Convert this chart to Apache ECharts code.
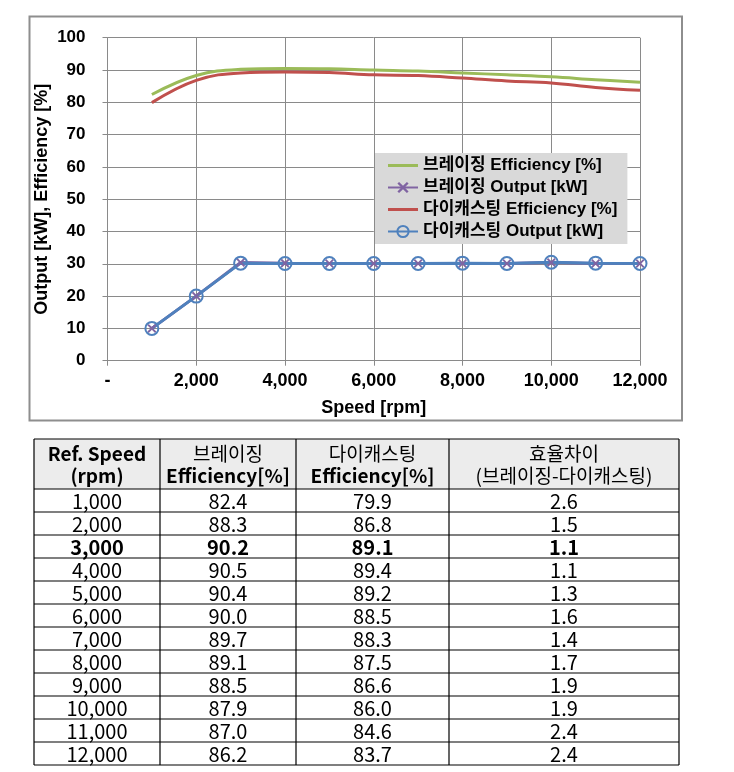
<!DOCTYPE html>
<html>
<head>
<meta charset="utf-8">
<script src="https://cdn.jsdelivr.net/npm/echarts@6/dist/echarts.min.js"></script>
<style>
html,body{margin:0;padding:0;background:#fff;}
#c{width:734px;height:772px;}
</style>
</head>
<body>
<div id="c"></div>
<script>
// ---- data ----
const speeds = [1000,2000,3000,4000,5000,6000,7000,8000,9000,10000,11000,12000];
const brazingEff = [82.4,88.3,90.2,90.5,90.4,90.0,89.7,89.1,88.5,87.9,87.0,86.2];
const diecastEff = [79.9,86.8,89.1,89.4,89.2,88.5,88.3,87.5,86.6,86.0,84.6,83.7];
const effDiff = [2.6,1.5,1.1,1.1,1.3,1.6,1.4,1.7,1.9,1.9,2.4,2.4];
const brazingOut = [10,20,30.4,30.2,30.1,30.1,30.1,30.1,30.1,30.4,30.1,30.1];
const diecastOut = [10,20,30.2,30.1,30.1,30.1,30.1,30.2,30.1,30.5,30.2,30.1];
const seriesNames = ['브레이징 Efficiency [%]','브레이징 Output [kW]','다이캐스팅 Efficiency [%]','다이캐스팅 Output [kW]'];
const headerLine1 = ['Ref. Speed','브레이징','다이캐스팅','효율차이'];
const headerLine2 = ['(rpm)','Efficiency[%]','Efficiency[%]','(브레이징-다이캐스팅)'];
const boldRowSpeed = 3000;

// ---- build ----
const pairs = vals => speeds.map((s,i)=>[s, vals[i]]);
const FONT = '"Liberation Sans", Arial, "Noto Sans CJK KR", sans-serif';
const TFONT = '"Noto Sans CJK KR", "Noto Sans", sans-serif';
const gridCol = '#8a8a8a';

const chart = echarts.init(document.getElementById('c'), null, {renderer:'canvas'});

// table layout
const colX = [34, 160, 296, 449, 679];
const headTop = 439, headBot = 489, rowH = 23;
const tableBot = headBot + rowH * speeds.length;
const g = [];
g.push({type:'rect', shape:{x:29.5,y:16.5,width:652.5,height:404}, style:{fill:'none', stroke:'#8e8e8e', lineWidth:2}, z:0});
g.push({type:'rect', shape:{x:colX[0], y:headTop, width:colX[4]-colX[0], height:headBot-headTop}, style:{fill:'#ececec'}});
function txt(t, x, y, font){
  g.push({type:'text', style:{text:t, x:x, y:y, font:font, fill:'#000', textAlign:'center', textVerticalAlign:'middle', align:'center', verticalAlign:'middle'}});
}
function ln(x1,y1,x2,y2){
  g.push({type:'line', shape:{x1:x1,y1:y1,x2:x2,y2:y2}, style:{stroke:'#000', lineWidth:1.2}});
}
ln(colX[0], headTop, colX[4], headTop);
ln(colX[0], headBot, colX[4], headBot);
for (let i=1;i<=speeds.length;i++) ln(colX[0], headBot+rowH*i, colX[4], headBot+rowH*i);
colX.forEach(x=>ln(x, headTop, x, tableBot));
for (let c=0;c<4;c++){
  const cx = (colX[c]+colX[c+1])/2;
  const b1 = c===0 ? 'bold ' : '';
  const b2 = (c===1||c===2||c===0) ? 'bold ' : '';
  txt(headerLine1[c], cx, 454, b1 + '19px ' + TFONT);
  txt(headerLine2[c], cx, 476, b2 + '19px ' + TFONT);
}
speeds.forEach((s,i)=>{
  const cy = headBot + rowH*i + rowH/2 + 1;
  const w = s===boldRowSpeed ? 'bold ' : '';
  const vals = [s.toLocaleString('en-US'), brazingEff[i].toFixed(1), diecastEff[i].toFixed(1), effDiff[i].toFixed(1)];
  vals.forEach((v,c)=>txt(v, (colX[c]+colX[c+1])/2, cy, w + '20px ' + TFONT));
});

const xMark = 'path://M0,1.5L1.5,0L5,3.5L8.5,0L10,1.5L6.5,5L10,8.5L8.5,10L5,6.5L1.5,10L0,8.5L3.5,5Z';
const barIcon = 'path://M0,0L0.01,0L0,0.01Z M0,5.5H30V8.5H0Z M30,14L29.99,14L30,13.99Z';

chart.setOption({
  animation:false,
  textStyle:{fontFamily:FONT},
  grid:{left:107.5, right:94, top:37.7, bottom:411.3, containLabel:false},
  legend:{
    orient:'vertical', left:375, top:153,
    backgroundColor:'#d9d9d9', padding:[4,10,4,12],
    itemWidth:30, itemHeight:14, itemGap:5,
    data:[
      {name:seriesNames[0], icon:barIcon},
      {name:seriesNames[1]},
      {name:seriesNames[2], icon:barIcon},
      {name:seriesNames[3]}
    ],
    textStyle:{fontSize:17, fontWeight:'bold', color:'#000', fontFamily:FONT, lineHeight:17}
  },
  xAxis:{
    type:'value', min:0, max:12000, interval:2000,
    name:'Speed [rpm]', nameLocation:'middle', nameGap:38, nameMoveOverlap:false,
    nameTextStyle:{fontSize:18, fontWeight:'bold', color:'#000', fontFamily:FONT},
    axisLine:{show:true, lineStyle:{color:gridCol, width:1}},
    axisTick:{show:true, length:5, lineStyle:{color:gridCol}},
    splitLine:{show:true, lineStyle:{color:gridCol, width:1}},
    axisLabel:{fontSize:18, fontWeight:'bold', color:'#000', margin:11,
      formatter:v=> v===0 ? '-' : v.toLocaleString('en-US')}
  },
  yAxis:{
    type:'value', min:0, max:100, interval:10,
    name:'Output [kW], Efficiency [%]', nameLocation:'middle', nameGap:56, nameMoveOverlap:false,
    nameTextStyle:{fontSize:18, fontWeight:'bold', color:'#000', fontFamily:FONT},
    axisLine:{show:true, lineStyle:{color:gridCol, width:1}},
    axisTick:{show:true, length:5, lineStyle:{color:gridCol}},
    splitLine:{show:true, lineStyle:{color:gridCol, width:1}},
    axisLabel:{fontSize:17, fontWeight:'bold', color:'#000', margin:22}
  },
  series:[
    {name:seriesNames[0], type:'line', smooth:0.4, data:pairs(brazingEff), symbol:'none',
      lineStyle:{color:'#9bbb59', width:3}, itemStyle:{color:'#9bbb59'}},
    {name:seriesNames[1], type:'line', smooth:false, data:pairs(brazingOut), symbol:xMark, symbolSize:9,
      lineStyle:{color:'#8064a2', width:3}, itemStyle:{color:'#8064a2'}},
    {name:seriesNames[2], type:'line', smooth:0.4, data:pairs(diecastEff), symbol:'none',
      lineStyle:{color:'#c0504d', width:3}, itemStyle:{color:'#c0504d'}},
    {name:seriesNames[3], type:'line', data:pairs(diecastOut), symbol:'circle', symbolSize:13,
      lineStyle:{color:'#4f81bd', width:3},
      itemStyle:{color:'rgba(255,255,255,0)', borderColor:'#4f81bd', borderWidth:2}}
  ],
  graphic:g
});
</script>
</body>
</html>
